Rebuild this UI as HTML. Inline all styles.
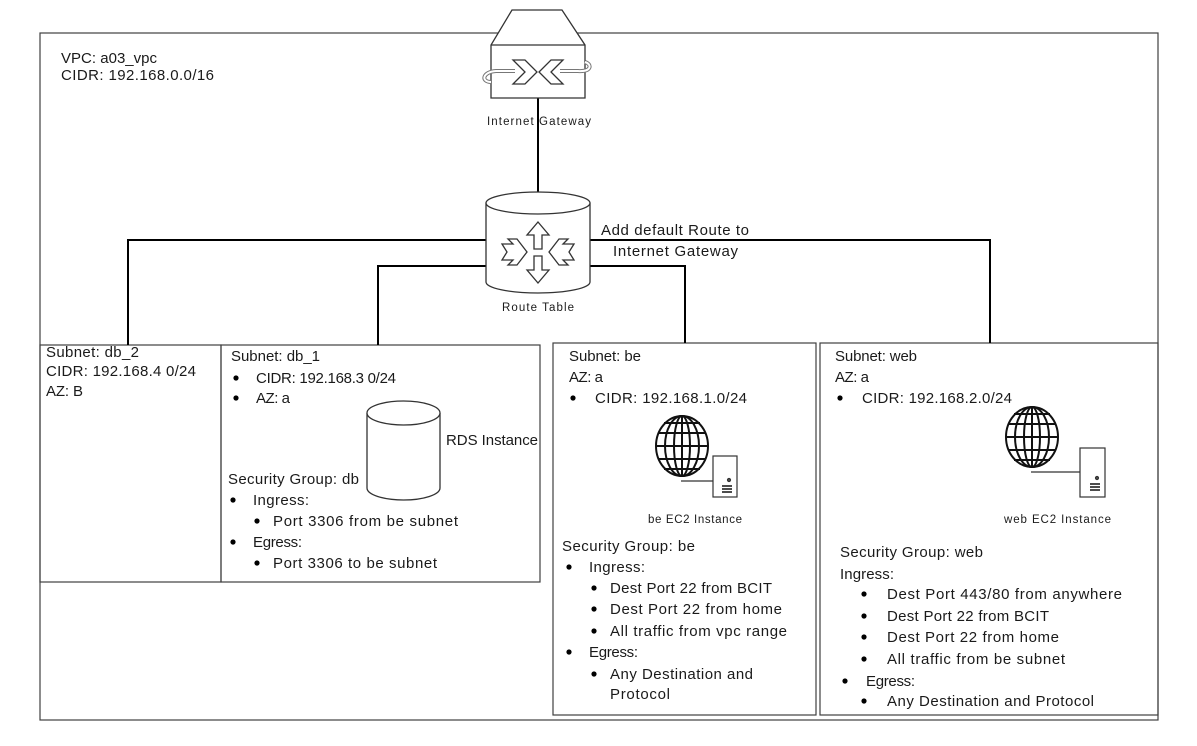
<!DOCTYPE html>
<html><head><meta charset="utf-8"><style>
html,body{margin:0;padding:0;background:#fff}
svg{display:block}
text{font-family:"Liberation Sans",sans-serif;font-size:15px;fill:#1a1a1a}
.s{font-size:11.5px}
</style></head><body>
<svg width="1197" height="746" viewBox="0 0 1197 746" xmlns="http://www.w3.org/2000/svg">
<g fill="none" stroke="#404040" stroke-width="1.2">
<rect x="40" y="33" width="1118" height="687"/>
<rect x="40" y="345" width="181" height="237"/>
<rect x="221" y="345" width="319" height="237"/>
<rect x="553" y="343" width="263" height="372"/>
<rect x="820" y="343" width="338" height="372"/>
</g>
<g fill="none" stroke="#000" stroke-width="2">
<path d="M128 345V240H990V343"/>
<path d="M378 345V266H685V343"/>
<path d="M538 98V192"/>
</g>
<!-- gateway -->
<g stroke="#333" stroke-width="1.3" fill="#fff">
<path d="M512 10H562L585 45V98H491V45Z"/>
<path d="M491 45H585"/>
<path d="M491 82C481 82 482 72 496 71H515M560 71H578C592 72 592 64 585 62" fill="none" stroke-width="4" stroke="#777"/>
<path d="M491 82C481 82 482 72 496 71H515M560 71H578C592 72 592 64 585 62" fill="none" stroke-width="2" stroke="#fff"/>
<path d="M513 60H525L537 72L525 84H513L525 72Z"/>
<path d="M563 60H551L539 72L551 84H563L551 72Z"/>
</g>
<text class="s" x="487" y="125" textLength="104">Internet Gateway</text>
<!-- route table -->
<g stroke="#333" stroke-width="1.3" fill="#fff">
<path d="M486 203V282A52 11 0 0 0 590 282V203"/>
<ellipse cx="538" cy="203" rx="52" ry="11"/>
<path d="M538 222L549 235H542V249H534V235H527Z"/>
<path d="M538 283L549 270H542V256H534V270H527Z"/>
<path d="M502 244H513L508 239H517L527 252L517 265H508L513 260H502L507 252Z"/>
<path d="M574 244H563L568 239H559L549 252L559 265H568L563 260H574L569 252Z"/>
</g>
<text class="s" x="502" y="311" textLength="72">Route Table</text>
<text x="601" y="235" textLength="148">Add default Route to</text>
<text x="613" y="256" textLength="125">Internet Gateway</text>
<text x="61" y="63" textLength="96">VPC: a03_vpc</text>
<text x="61" y="80" textLength="153">CIDR: 192.168.0.0/16</text>
<!-- db_2 -->
<text x="46" y="357" textLength="93">Subnet: db_2</text>
<text x="46" y="376" textLength="150">CIDR: 192.168.4 0/24</text>
<text x="46" y="396" textLength="37">AZ: B</text>
<!-- db_1 -->
<text x="231" y="361" textLength="89">Subnet: db_1</text>
<g fill="#000"><circle cx="236" cy="378" r="2.6"/><circle cx="236" cy="398" r="2.6"/><circle cx="233" cy="500" r="2.6"/><circle cx="233" cy="542" r="2.6"/><circle cx="257" cy="521" r="2.6"/><circle cx="257" cy="563" r="2.6"/></g>
<text x="256" y="383" textLength="140">CIDR: 192.168.3 0/24</text>
<text x="256" y="403" textLength="34">AZ: a</text>
<g stroke="#333" stroke-width="1.3" fill="#fff">
<path d="M367 413V488A36.5 12 0 0 0 440 488V413"/>
<ellipse cx="403.5" cy="413" rx="36.5" ry="12"/>
</g>
<text x="446" y="445" textLength="92">RDS Instance</text>
<text x="228" y="484" textLength="131">Security Group: db</text>
<text x="253" y="505" textLength="56">Ingress:</text>
<text x="273" y="526" textLength="185">Port 3306 from be subnet</text>
<text x="253" y="547" textLength="49">Egress:</text>
<text x="273" y="568" textLength="164">Port 3306 to be subnet</text>
<!-- be -->
<text x="569" y="361" textLength="72">Subnet: be</text>
<text x="569" y="382" textLength="34">AZ: a</text>
<g fill="#000"><circle cx="573" cy="398" r="2.6"/><circle cx="569" cy="567" r="2.6"/><circle cx="569" cy="652" r="2.6"/><circle cx="594" cy="588" r="2.6"/><circle cx="594" cy="609" r="2.6"/><circle cx="594" cy="631" r="2.6"/><circle cx="594" cy="674" r="2.6"/></g>
<text x="595" y="403" textLength="152">CIDR: 192.168.1.0/24</text>
<g id="globe" stroke="#111" stroke-width="2" fill="none">
<ellipse cx="682" cy="446" rx="26" ry="30"/>
<ellipse cx="682" cy="446" rx="8" ry="30"/>
<ellipse cx="682" cy="446" rx="17" ry="30"/>
<path d="M682 416V476M658 433H706M656 446H708M658 459H706M664 423H700M664 469H700"/>
</g>
<g stroke="#333" stroke-width="1.2" fill="#fff">
<path d="M681 481H713"/>
<rect x="713" y="456" width="24" height="41"/>
<circle cx="729" cy="480" r="1.5" fill="#555"/>
<path d="M722 486H732M722 489H732M722 492H732" stroke="#111" stroke-width="1.5"/>
</g>
<text class="s" x="648" y="523" textLength="94">be EC2 Instance</text>
<text x="562" y="551" textLength="133">Security Group: be</text>
<text x="589" y="572" textLength="56">Ingress:</text>
<text x="610" y="593" textLength="162">Dest Port 22 from BCIT</text>
<text x="610" y="614" textLength="172">Dest Port 22 from home</text>
<text x="610" y="636" textLength="177">All traffic from vpc range</text>
<text x="589" y="657" textLength="49">Egress:</text>
<text x="610" y="679" textLength="143">Any Destination and</text>
<text x="610" y="699" textLength="60">Protocol</text>
<!-- web -->
<text x="835" y="361" textLength="82">Subnet: web</text>
<text x="835" y="382" textLength="34">AZ: a</text>
<g fill="#000"><circle cx="840" cy="398" r="2.6"/><circle cx="845" cy="681" r="2.6"/><circle cx="864" cy="594" r="2.6"/><circle cx="864" cy="616" r="2.6"/><circle cx="864" cy="637" r="2.6"/><circle cx="864" cy="659" r="2.6"/><circle cx="864" cy="701" r="2.6"/></g>
<text x="862" y="403" textLength="150">CIDR: 192.168.2.0/24</text>
<use href="#globe" transform="translate(350,-9)"/>
<g stroke="#333" stroke-width="1.2" fill="#fff">
<path d="M1031 472H1080"/>
<rect x="1080" y="448" width="25" height="49"/>
<circle cx="1097" cy="478" r="1.5" fill="#555"/>
<path d="M1090 484H1100M1090 487H1100M1090 490H1100" stroke="#111" stroke-width="1.5"/>
</g>
<text class="s" x="1004" y="523" textLength="107">web  EC2 Instance</text>
<text x="840" y="557" textLength="143">Security Group: web</text>
<text x="840" y="579" textLength="54">Ingress:</text>
<text x="887" y="599" textLength="235">Dest Port 443/80 from anywhere</text>
<text x="887" y="621" textLength="162">Dest Port 22 from BCIT</text>
<text x="887" y="642" textLength="172">Dest Port 22 from home</text>
<text x="887" y="664" textLength="178">All traffic from be subnet</text>
<text x="866" y="686" textLength="49">Egress:</text>
<text x="887" y="706" textLength="207">Any Destination and Protocol</text>
</svg>
</body></html>
